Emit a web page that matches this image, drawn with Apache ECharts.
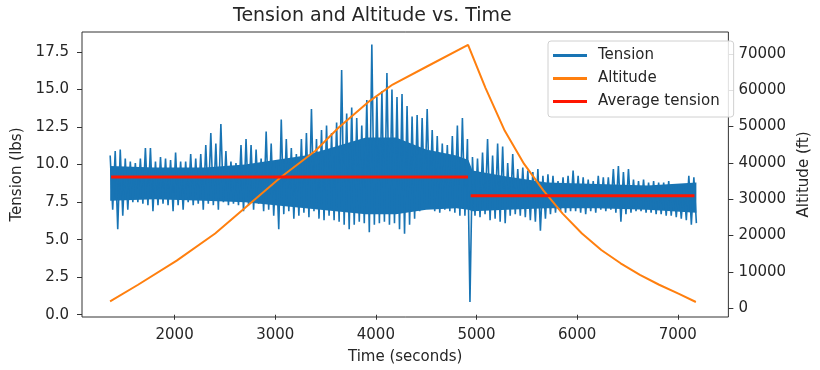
<!DOCTYPE html>
<html>
<head>
<meta charset="utf-8">
<title>Tension and Altitude vs. Time</title>
<script src="https://cdn.jsdelivr.net/npm/echarts@6.0.0/dist/echarts.min.js"></script>
<style>
  html, body { margin: 0; padding: 0; background: #fff; }
  #chart { width: 820px; height: 370px; }
</style>
</head>
<body>
<div id="chart"></div>
<script>
// axis ticks
const timeTicks = [2000, 3000, 4000, 5000, 6000, 7000]
const tensionTicks = [0, 2.5, 5, 7.5, 10, 12.5, 15, 17.5]
const altitudeTicks = [0, 10000, 20000, 30000, 40000, 50000, 60000, 70000]

// tension: one high / low reading per 50 s bin, starting at 1360 s
const tensionStart = 1360
const tensionStep = 50
const tensionHigh = [
  10.6, 10.9, 11.0, 10.4, 10.2, 10.1, 10.4, 11.1, 11.1, 10.2,
  10.5, 10.4, 10.3, 10.8, 10.2, 10.2, 10.7, 10.4, 10.7, 11.3,
  12.1, 11.4, 12.7, 10.9, 10.2, 10.1, 11.3, 11.7, 11.3, 11.0,
  10.4, 12.2, 11.4, 10.3, 13.0, 11.7, 11.1, 10.7, 11.7, 12.1,
  13.7, 11.7, 12.3, 12.6, 12.1, 12.8, 16.3, 13.4, 13.8, 13.1,
  12.6, 14.3, 18.0, 14.5, 14.9, 16.1, 15.0, 14.5, 14.7, 13.9,
  13.2, 13.3, 13.1, 13.7, 12.3, 11.9, 11.4, 11.3, 11.9, 12.6,
  13.1, 11.7, 10.5, 10.4, 10.8, 11.7, 10.6, 11.4, 11.2, 10.1,
  10.7, 9.7, 9.8, 9.6, 9.5, 9.7, 9.25, 9.36, 9.25, 8.9,
  9.15, 9.25, 9.6, 9.25, 9.15, 9.0, 8.9, 9.25, 9.15, 9.15,
  9.7, 9.9, 9.5, 9.7, 9.0, 8.9, 9.0, 8.8, 8.9, 8.8,
  8.8, 8.9, 8.7, 8.6, 8.7, 9.25, 9.15
]
const tensionLow = [
  7.0, 5.7, 6.6, 7.0, 7.5, 7.5, 7.4, 7.3, 6.9, 7.3,
  7.4, 7.3, 6.9, 7.3, 7.0, 7.5, 7.3, 7.4, 7.0, 7.4,
  7.3, 7.0, 7.5, 7.3, 7.4, 7.3, 6.9, 7.3, 7.0, 7.4,
  6.9, 7.0, 6.6, 5.7, 6.7, 6.9, 6.4, 6.6, 6.8, 6.5,
  6.9, 6.4, 6.3, 6.6, 6.3, 6.2, 6.0, 5.7, 6.0, 6.2,
  6.1, 5.5, 6.0, 6.1, 6.2, 6.0, 6.1, 5.7, 5.4, 6.0,
  6.4, 6.9, 7.4, 7.3, 6.9, 6.8, 7.0, 6.9, 6.8, 6.6,
  6.6, 0.85, 6.6, 6.5, 6.7, 6.3, 6.4, 6.2, 6.1, 6.6,
  6.7, 6.6, 6.5, 6.3, 6.2, 5.6, 6.4, 6.7, 6.8, 6.9,
  6.8, 6.9, 6.9, 6.8, 6.7, 6.9, 6.8, 7.0, 6.9, 7.0,
  6.8, 6.2, 6.7, 6.8, 6.9, 6.9, 6.8, 6.8, 6.7, 6.7,
  6.6, 6.6, 6.5, 6.4, 6.3, 6.0, 6.1
]

// solid core of the tension trace (where the samples overlap)
const coreTime = [1360, 1800, 2300, 2700, 3000, 3300, 3600, 3900, 4200, 4500, 4800, 4920, 4960, 5300, 5700, 6200, 6700, 7185]
const coreTop = [9.9, 9.8, 9.8, 10.0, 10.3, 10.6, 11.2, 11.8, 11.8, 11.0, 10.6, 10.3, 9.6, 9.2, 8.8, 8.7, 8.6, 8.8]
const coreBottom = [7.6, 7.7, 7.6, 7.5, 7.3, 7.1, 6.9, 6.7, 6.7, 7.0, 7.1, 7.0, 6.9, 7.0, 7.1, 7.1, 7.0, 6.8]

// altitude track
const altTime = [1359, 1637, 2021, 2403, 2710, 3055, 3400, 3631, 3937, 4167, 4512, 4916,
  5089, 5281, 5473, 5664, 5856, 6048, 6240, 6432, 6624, 6815, 7007, 7180]
const altFeet = [1900, 6470, 13110, 20580, 27870, 36060, 43350, 49720, 57000, 61550, 66580, 72480,
  60650, 48820, 39700, 32430, 26040, 20580, 16040, 12380, 9200, 6470, 4020, 1720]

// average tension, ascent then descent
const avgStart = [1369, 4942]
const avgEnd = [4916, 7166]
const avgValue = [9.17, 7.93]

const BLUE = '#1874b4'
const ORANGE = '#ff7f0e'
const RED = '#ff1500'
const FONT = 'DejaVu Sans'
const TEXT = '#262626'

// high at bin start, low half a bin later
const tensionData = []
tensionHigh.forEach((h, i) => {
  const t = tensionStart + i * tensionStep
  tensionData.push([t, h])
  tensionData.push([t + tensionStep / 2, tensionLow[i]])
})

const avgSeries = avgValue.map((v, i) => ({
  name: 'Average tension',
  type: 'line',
  data: [[avgStart[i], v], [avgEnd[i], v]],
  showSymbol: false,
  lineStyle: { color: RED, width: 3 },
  itemStyle: { color: RED },
  z: 5
}))

const axisText = { fontFamily: FONT, fontSize: 15, color: TEXT }

const chart = echarts.init(document.getElementById('chart'))
chart.setOption({
  animation: false,
  title: {
    text: 'Tension and Altitude vs. Time',
    left: 233,
    top: 7,
    padding: 0,
    textStyle: { fontFamily: FONT, fontSize: 19, fontWeight: 'normal', color: TEXT }
  },
  legend: {
    data: ['Tension', 'Altitude', 'Average tension'],
    orient: 'vertical',
    left: 548,
    top: 41,
    padding: [7, 14, 8, 5],
    itemGap: 8,
    itemWidth: 34,
    itemHeight: 3,
    icon: 'rect',
    backgroundColor: 'rgba(255,255,255,0.85)',
    borderColor: '#d0d0d0',
    borderWidth: 1,
    borderRadius: 3,
    textStyle: { fontFamily: FONT, fontSize: 15, color: TEXT, padding: [0, 0, 0, 6] }
  },
  grid: {
    left: 82,
    top: 32,
    width: 661,
    height: 287,
    show: true,
    borderColor: '#333',
    borderWidth: 1
  },
  xAxis: {
    type: 'value',
    min: 1080,
    max: 7503,
    name: 'Time (seconds)',
    nameLocation: 'middle',
    nameGap: 33,
    nameTextStyle: axisText,
    axisLine: { show: false },
    axisTick: { show: true, length: 5, customValues: timeTicks, lineStyle: { color: '#333' } },
    axisLabel: { customValues: timeTicks, margin: 11, formatter: v => String(v), ...axisText },
    splitLine: { show: false }
  },
  yAxis: [
    {
      type: 'value',
      min: -0.15,
      max: 18.83,
      name: 'Tension (lbs)',
      nameLocation: 'middle',
      nameGap: 48,
      nameRotate: 90,
      nameTextStyle: axisText,
      axisLine: { show: false },
      axisTick: { show: true, length: 5, customValues: tensionTicks, lineStyle: { color: '#333' } },
      axisLabel: { customValues: tensionTicks, margin: 13, formatter: v => v.toFixed(1), ...axisText },
      splitLine: { show: false }
    },
    {
      type: 'value',
      position: 'right',
      min: -2400,
      max: 76000,
      name: 'Altitude (ft)',
      nameLocation: 'middle',
      nameGap: 61,
      nameRotate: 90,
      nameTextStyle: axisText,
      axisLine: { show: false },
      axisTick: { show: true, length: 5, customValues: altitudeTicks, lineStyle: { color: '#333' } },
      axisLabel: { customValues: altitudeTicks, margin: 10, formatter: v => String(v), ...axisText },
      splitLine: { show: false }
    }
  ],
  series: [
    {
      name: 'tension core',
      type: 'custom',
      silent: true,
      data: [[coreTime[0], coreTop[0]]],
      renderItem: (params, api) => {
        const pts = coreTime.map((t, i) => api.coord([t, coreTop[i]]))
        for (let i = coreTime.length - 1; i >= 0; i--) pts.push(api.coord([coreTime[i], coreBottom[i]]))
        return { type: 'polygon', shape: { points: pts }, style: { fill: BLUE } }
      },
      z: 1
    },
    {
      name: 'Tension',
      type: 'line',
      data: tensionData,
      showSymbol: false,
      lineStyle: { color: BLUE, width: 1.6 },
      itemStyle: { color: BLUE },
      z: 2
    },
    {
      name: 'Altitude',
      type: 'line',
      yAxisIndex: 1,
      data: altTime.map((t, i) => [t, altFeet[i]]),
      showSymbol: false,
      lineStyle: { color: ORANGE, width: 2 },
      itemStyle: { color: ORANGE },
      z: 3
    },
    ...avgSeries
  ]
})
</script>
</body>
</html>
